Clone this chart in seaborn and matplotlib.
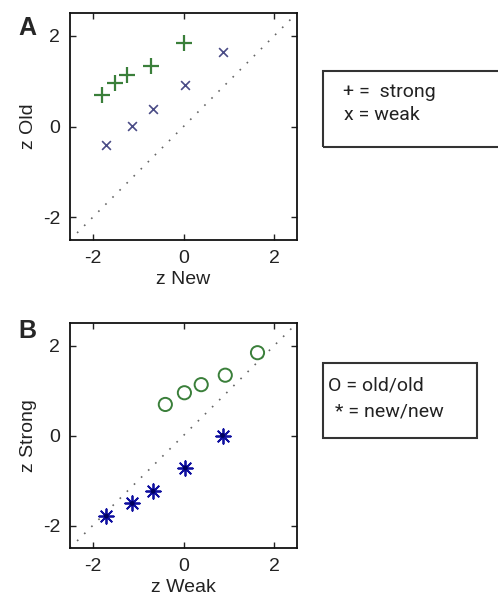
import matplotlib
matplotlib.use("Agg")
import matplotlib.pyplot as plt
from matplotlib.patches import Rectangle
import seaborn as sns
import pandas as pd

# Data (z-scores)
conditions = ["c1", "c2", "c3", "c4", "c5"]
strong_new = [-1.79, -1.51, -1.24, -0.72, 0.00]
strong_old = [0.69, 0.95, 1.13, 1.34, 1.84]
weak_new = [-1.70, -1.13, -0.67, 0.04, 0.86]
weak_old = [-0.40, 0.02, 0.39, 0.92, 1.63]
ticks = [-2, 0, 2]

df = pd.DataFrame({"cond": conditions, "strong_new": strong_new, "strong_old": strong_old,
                   "weak_new": weak_new, "weak_old": weak_old})

sns.set_style("ticks")
plt.rcParams["font.family"] = ["Liberation Sans", "DejaVu Sans"]
plt.rcParams["axes.unicode_minus"] = False

W, H = 498, 602
fig = plt.figure(figsize=(W / 100, H / 100), dpi=100)

def fr(l, t, r, b):
    return [l / W, 1 - b / H, (r - l) / W, (b - t) / H]

axA = fig.add_axes(fr(70, 13, 297, 240))
axB = fig.add_axes(fr(70, 323, 297, 548))

green = "#3a7f3a"
slate = "#4a4c86"
blue = "#1010a0"

for ax in (axA, axB):
    ax.axline((0, 0), slope=1, color="#666666", linestyle=(0, (1, 5)), linewidth=1.2, zorder=1)
    ax.set_xlim(-2.5, 2.5)
    ax.set_ylim(-2.5, 2.5)
    ax.set_xticks(ticks)
    ax.set_yticks(ticks)
    ax.tick_params(direction="in", top=True, right=True, length=4, width=1,
                   labelsize=14, colors="#222222", pad=7)
    for s in ax.spines.values():
        s.set_linewidth(1.3)
        s.set_color("#111111")

sns.scatterplot(data=df, x="strong_new", y="strong_old", ax=axA, marker="+", s=120,
                color=green, linewidth=1.6, zorder=3, legend=False)
sns.scatterplot(data=df, x="weak_new", y="weak_old", ax=axA, marker="x", s=40,
                color=slate, linewidth=1.2, zorder=3, legend=False)
axA.set_xlabel("z New", fontsize=14, color="#222222", labelpad=3)
axA.set_ylabel("z Old", fontsize=14, color="#222222", labelpad=4)

sns.scatterplot(data=df, x="weak_old", y="strong_old", ax=axB, marker="o", s=90,
                facecolor="none", edgecolor=green, linewidth=1.4, zorder=3, legend=False)
sns.scatterplot(data=df, x="weak_new", y="strong_new", ax=axB, marker=(8, 2, 0), s=110,
                color=blue, edgecolor=blue, linewidth=1.3, zorder=3, legend=False)
sns.scatterplot(data=df, x="weak_new", y="strong_new", ax=axB, marker="o", s=12,
                color="#000060", edgecolor="none", zorder=4, legend=False)
axB.set_xlabel("z Weak", fontsize=14, color="#222222", labelpad=3)
axB.set_ylabel("z Strong", fontsize=14, color="#222222", labelpad=4)

fig.text(27 / W, 1 - 28 / H, "A", fontsize=18, fontweight="bold", ha="center", va="center")
fig.text(27 / W, 1 - 331 / H, "B", fontsize=18, fontweight="bold", ha="center", va="center")

def box(l, t, r, b):
    fig.patches.append(Rectangle((l / W, 1 - b / H), (r - l) / W, (b - t) / H,
                                 transform=fig.transFigure, fill=False,
                                 edgecolor="#333333", linewidth=1.5))

box(323, 71, 500, 147)
box(323, 363, 477, 438)
lf = ["Roboto", "DejaVu Sans"]
fig.text(343 / W, 1 - 92 / H, "+ =  strong", fontsize=14, family=lf, va="center", color="#222222")
fig.text(344 / W, 1 - 115 / H, "x = weak", fontsize=14, family=lf, va="center", color="#222222")
fig.text(328 / W, 1 - 385 / H, "O = old/old", fontsize=14, family=lf, va="center", color="#222222")
fig.text(335 / W, 1 - 412 / H, "* = new/new", fontsize=14, family=lf, va="center", color="#222222")

fig.savefig("out.png", dpi=100)
